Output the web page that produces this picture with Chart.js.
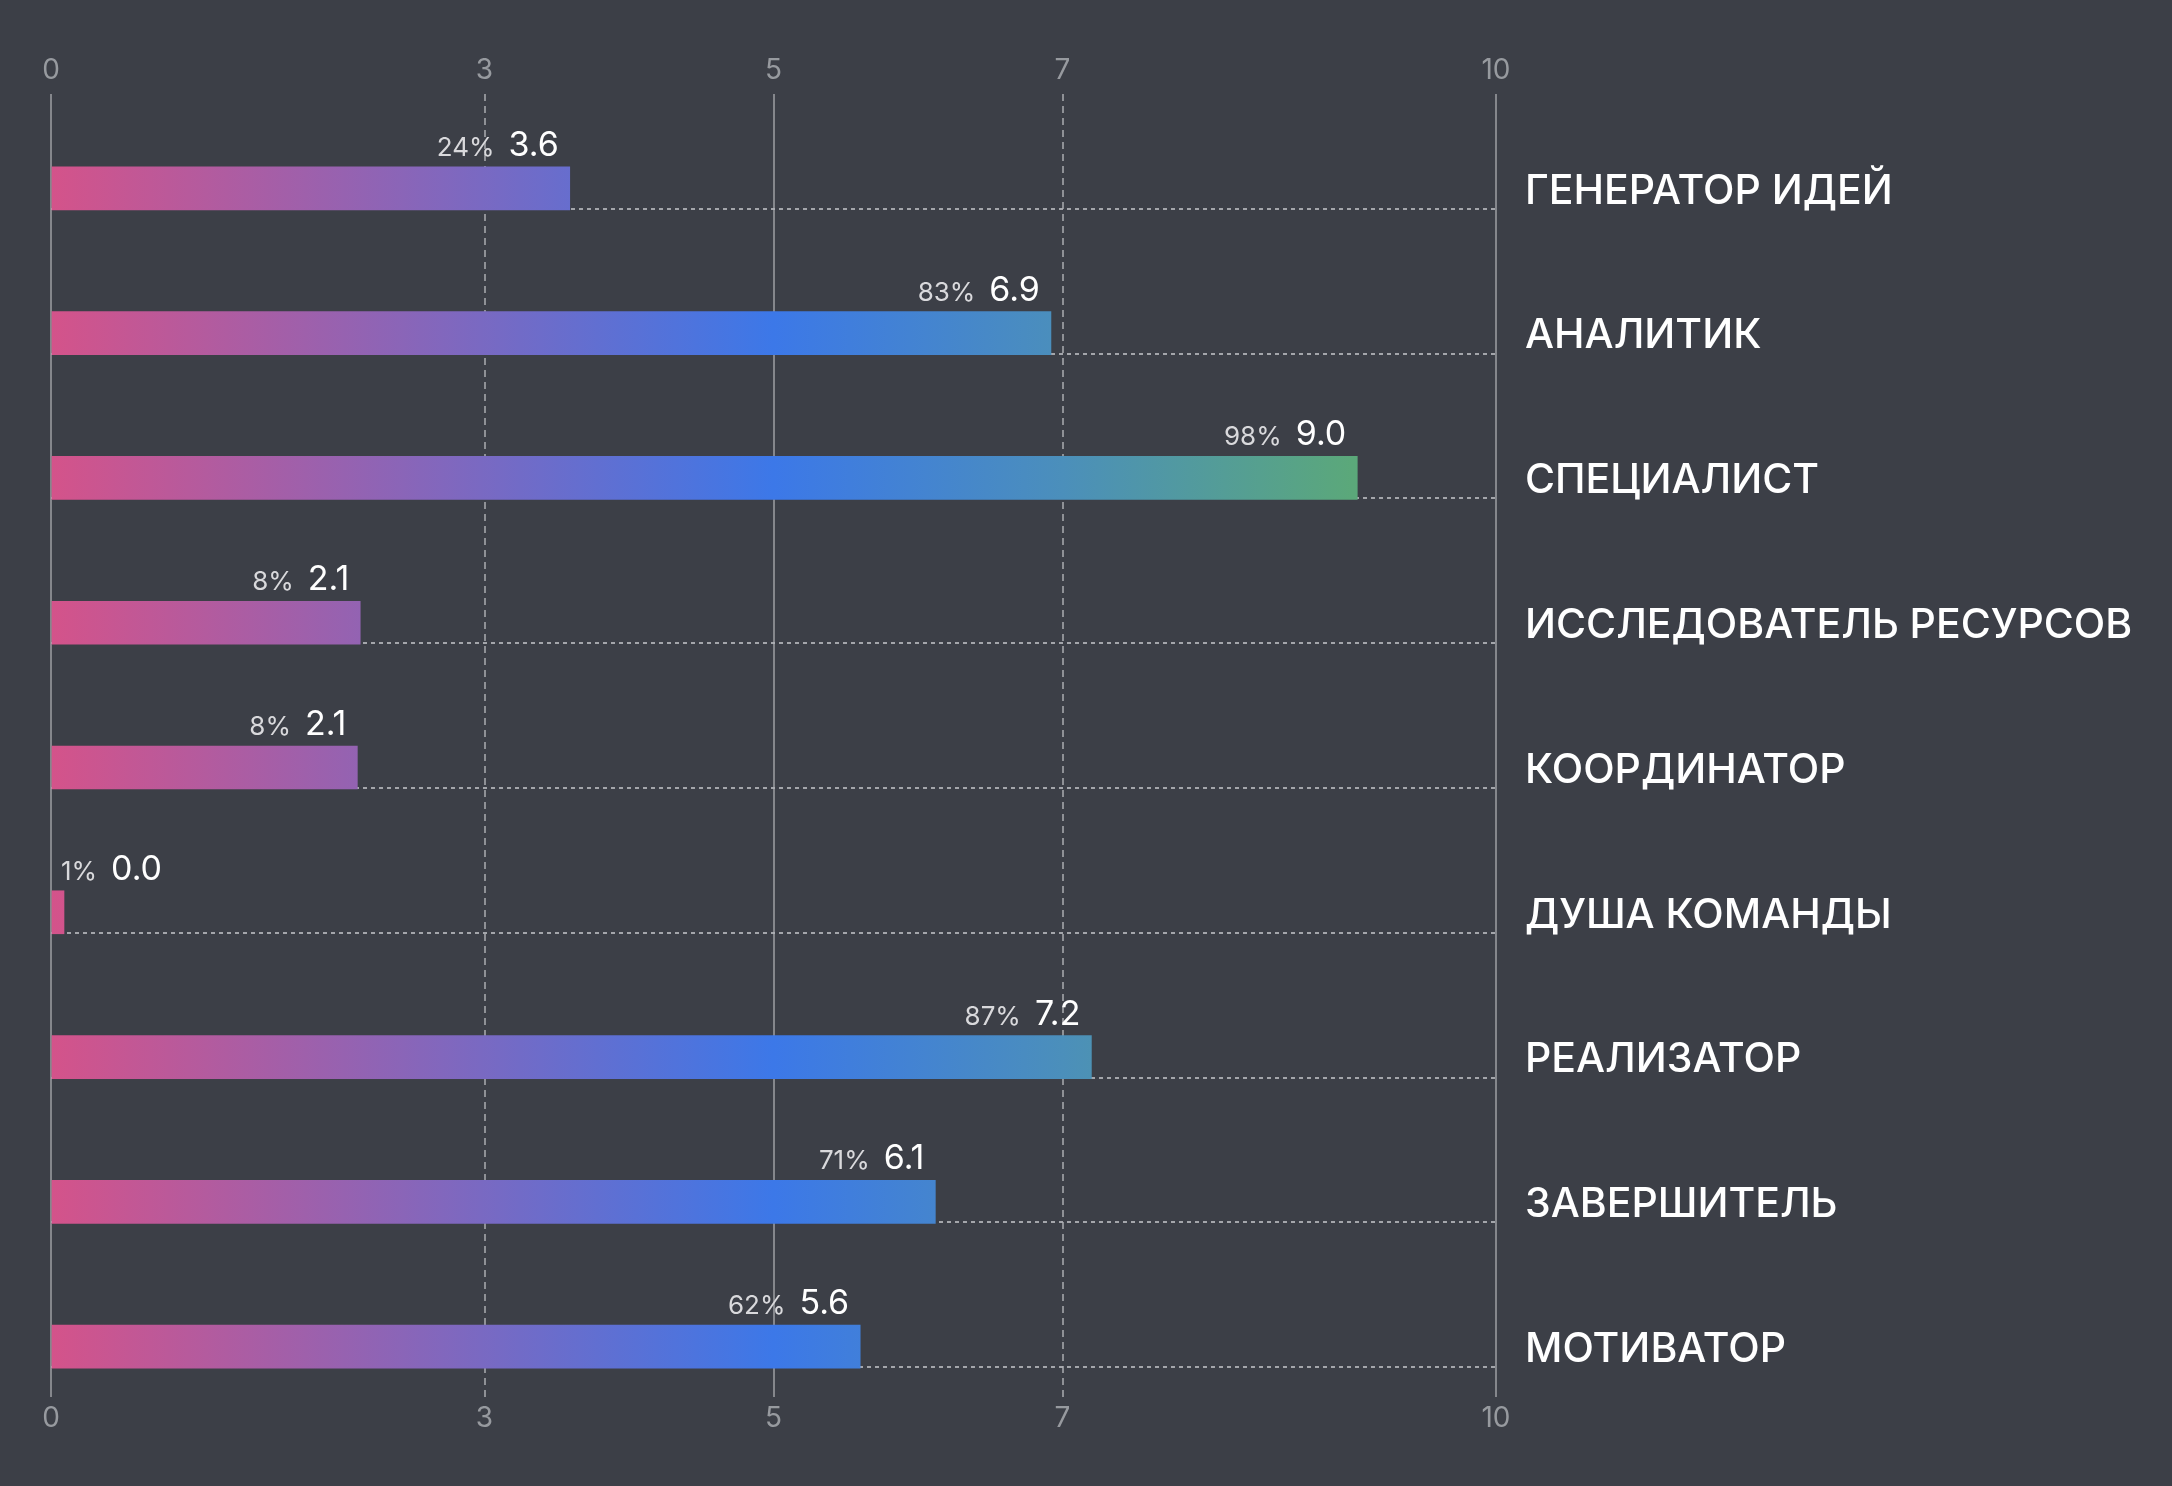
<!DOCTYPE html>
<html>
<head>
<meta charset="utf-8">
<script src="https://cdn.jsdelivr.net/npm/chart.js@4/dist/chart.umd.min.js"></script>
<style>
  html, body { margin: 0; padding: 0; background: #3c3f47; overflow: hidden; }
  canvas { display: block; }
</style>
</head>
<body>
<canvas id="c" width="2172" height="1486"></canvas>
<script>
// ---- data ----
const categories = ['ГЕНЕРАТОР ИДЕЙ', 'АНАЛИТИК', 'СПЕЦИАЛИСТ', 'ИССЛЕДОВАТЕЛЬ РЕСУРСОВ', 'КООРДИНАТОР', 'ДУША КОМАНДЫ', 'РЕАЛИЗАТОР', 'ЗАВЕРШИТЕЛЬ', 'МОТИВАТОР'];
const scores = [3.59, 6.92, 9.04, 2.14, 2.12, 0.0, 7.2, 6.12, 5.6];
const percents = [24, 83, 98, 8, 8, 1, 87, 71, 62];
const xTicks = [0, 3, 5, 7, 10];
const xMin = 0, xMax = 10;

// ---- style ----
const FONT = 'Inter, "Noto Sans", sans-serif';
const Y_SHIFT = 22;

function barGradient(ctx) {
  const chart = ctx.chart;
  const xs = chart.scales.x;
  if (!xs || !chart.chartArea) return '#d4548a';
  const x0 = xs.getPixelForValue(xMin), x1 = xs.getPixelForValue(xMax);
  const g = chart.ctx.createLinearGradient(x0, 0, x1, 0);
  g.addColorStop(0, '#d4538a');
  g.addColorStop(0.5, '#3c78e8');
  g.addColorStop(0.7, '#4b8fbb');
  g.addColorStop(0.9, '#5ba87a');
  g.addColorStop(1, '#60b06e');
  return g;
}

const shiftPlugin = {
  id: 'shiftY',
  afterLayout(chart) {
    const y = chart.scales.y;
    y.top += Y_SHIFT;
    y.bottom += Y_SHIFT;
    y.configure();
  }
};

const rowLinesPlugin = {
  id: 'rowLines',
  beforeDatasetsDraw(chart) {
    const ctx = chart.ctx;
    const xs = chart.scales.x;
    const meta = chart.getDatasetMeta(0);
    const left = xs.getPixelForValue(xMin), right = xs.getPixelForValue(xMax);
    ctx.save();
    ctx.strokeStyle = 'rgba(175,177,182,0.9)';
    ctx.lineWidth = 2;
    ctx.setLineDash([4, 4]);
    meta.data.forEach(el => {
      const yb = Math.round(el.y + el.height / 2) - 1;
      ctx.beginPath();
      ctx.moveTo(left, yb);
      ctx.lineTo(right, yb);
      ctx.stroke();
    });
    ctx.restore();
  }
};

const labelPlugin = {
  id: 'valueLabels',
  afterDatasetsDraw(chart) {
    const ctx = chart.ctx;
    const xs = chart.scales.x;
    const x0 = xs.getPixelForValue(xMin);
    const meta = chart.getDatasetMeta(0);
    ctx.save();
    ctx.textBaseline = 'alphabetic';
    ctx.textAlign = 'left';
    meta.data.forEach((el, i) => {
      const valText = scores[i].toFixed(1);
      const pctText = percents[i] + '%';
      const valFont = '400 34px ' + FONT;
      const pctFont = '400 26px ' + FONT;
      ctx.font = valFont;
      const wv = ctx.measureText(valText).width;
      ctx.font = pctFont;
      const wp = ctx.measureText(pctText).width;
      const gap = 14;
      const total = wp + gap + wv;
      let startX = el.x - 11 - total;
      if (startX < x0 + 10) startX = x0 + 10;
      const base = el.y - el.height / 2 - 11;
      ctx.fillStyle = '#d9d9dc';
      ctx.font = pctFont;
      ctx.fillText(pctText, startX, base);
      ctx.fillStyle = '#ffffff';
      ctx.font = valFont;
      ctx.fillText(valText, startX + wp + gap, base);
    });
    ctx.restore();
  }
};

const tickSetter = s => { s.ticks = xTicks.map(v => ({ value: v })); };
const gridDash = c => (c.tick && c.tick.value % 5 !== 0) ? [7, 5] : [];

new Chart(document.getElementById('c'), {
  type: 'bar',
  data: {
    labels: categories,
    datasets: [{
      data: scores,
      backgroundColor: barGradient,
      borderWidth: 0,
      barThickness: 43,
      minBarLength: 13
    }]
  },
  plugins: [shiftPlugin, rowLinesPlugin, labelPlugin],
  options: {
    indexAxis: 'y',
    responsive: false,
    animation: false,
    events: [],
    layout: { padding: { left: 51, right: 0, top: 0, bottom: 0 } },
    plugins: { legend: { display: false }, tooltip: { enabled: false } },
    scales: {
      x: {
        type: 'linear',
        position: 'bottom',
        min: xMin, max: xMax,
        afterBuildTicks: tickSetter,
        afterFit: s => { s.height = 89; },
        grid: {
          drawTicks: false,
          color: c => (c.tick && c.tick.value % 5 !== 0) ? '#8f9196' : '#85878c',
          lineWidth: 2
        },
        border: { display: false, dash: gridDash },
        ticks: { color: '#979a9f', font: { family: FONT, size: 28 }, padding: 5 }
      },
      x2: {
        type: 'linear',
        position: 'top',
        min: xMin, max: xMax,
        afterBuildTicks: tickSetter,
        afterFit: s => { s.height = 94; },
        grid: { display: false, drawTicks: false },
        border: { display: false },
        ticks: { color: '#979a9f', font: { family: FONT, size: 28 }, padding: 7 }
      },
      y: {
        type: 'category',
        position: 'right',
        offset: true,
        afterFit: s => { s.width = 676; },
        grid: { display: false, drawTicks: false },
        border: { display: false },
        ticks: { color: '#ffffff', font: { family: FONT, size: 41, weight: '500' }, padding: 29, labelOffset: 3 }
      }
    }
  }
});
</script>
</body>
</html>
